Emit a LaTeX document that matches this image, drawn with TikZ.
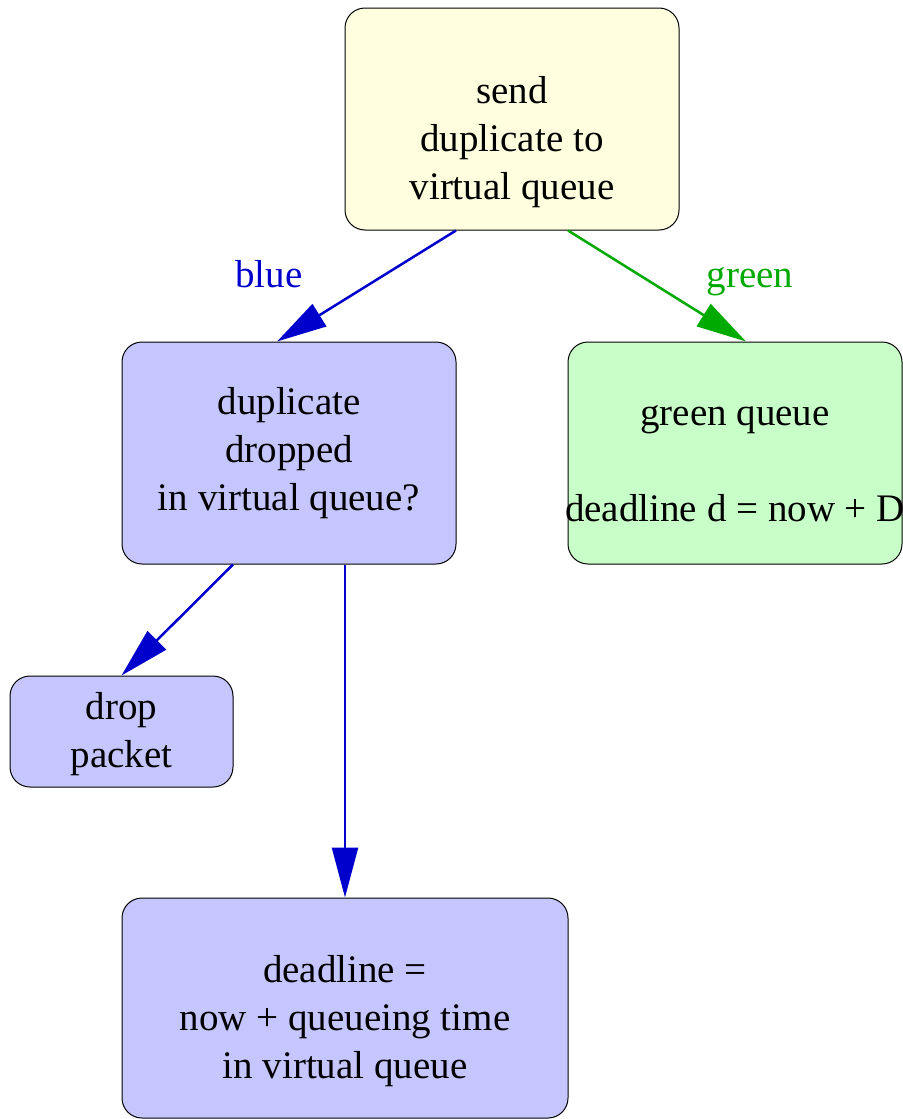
\documentclass[tikz,border=0pt]{standalone}
\usepackage{fontspec}
\setmainfont{Liberation Serif}
\usetikzlibrary{shapes}
\usetikzlibrary{positioning}
\usetikzlibrary{arrows.meta}
\usepackage{xcolor}

\definecolor{boxyellow}{RGB}{255,255,224}
\definecolor{boxblue}{RGB}{198,198,255}
\definecolor{boxgreen}{RGB}{200,255,200}
\definecolor{edgeblue}{RGB}{0,0,205}
\definecolor{edgegreen}{RGB}{0,170,0}

\newcommand{\toplift}[1]{\rule{0pt}{#1}}

\tikzset{
  state/.style={draw, rounded corners=10pt, line width=0.5pt, align=center,
    inner sep=0pt, font=\fontsize{19.5}{24}\selectfont},
  flow/.style={-{Triangle[length=25pt,width=13pt]}, line width=1.25pt},
  tag/.style={anchor=base, font=\fontsize{19.5}{24}\selectfont},
}

\begin{document}
\begin{tikzpicture}[x=0.5pt,y=-0.5pt]
\useasboundingbox (0,0) rectangle (903,1119);

\node[state, fill=boxyellow, minimum width=167pt, minimum height=111pt] (send) at (512,119) {\toplift{37pt}send\\duplicate to\\virtual queue};
\node[state, fill=boxblue, minimum width=167pt, minimum height=111pt] (dup) at (289,453) {duplicate\\dropped\\in virtual queue?};
\node[state, fill=boxgreen, minimum width=167pt, minimum height=111pt] (green) at (735,453) {\toplift{21pt}green queue\\\mbox{}\\\makebox[160pt]{deadline d = now + D}};
\node[state, fill=boxblue, minimum width=111.5pt, minimum height=55.5pt] (drop) at (121.5,731.5) {\toplift{16pt}drop\\packet};
\node[state, fill=boxblue, minimum width=223pt, minimum height=110pt] (deadline) at (345,1008) {\toplift{26.5pt}deadline =\\now + queueing time\\in virtual queue};

\node[tag, text=edgeblue] (blue lbl) at (269,287) {blue};
\node[tag, text=edgegreen] (green lbl) at (750,287) {green};

\draw[flow, edgeblue] ([xshift=-28pt]send.south) -- ([xshift=-6pt]dup.north);
\draw[flow, edgegreen] ([xshift=28pt]send.south) -- ([xshift=5.5pt]green.north);
\draw[flow, edgeblue] ([xshift=-28pt]dup.south) -- (drop.north);
\draw[flow, edgeblue] ([xshift=28pt]dup.south) -- (deadline.north);
\end{tikzpicture}
\end{document}
